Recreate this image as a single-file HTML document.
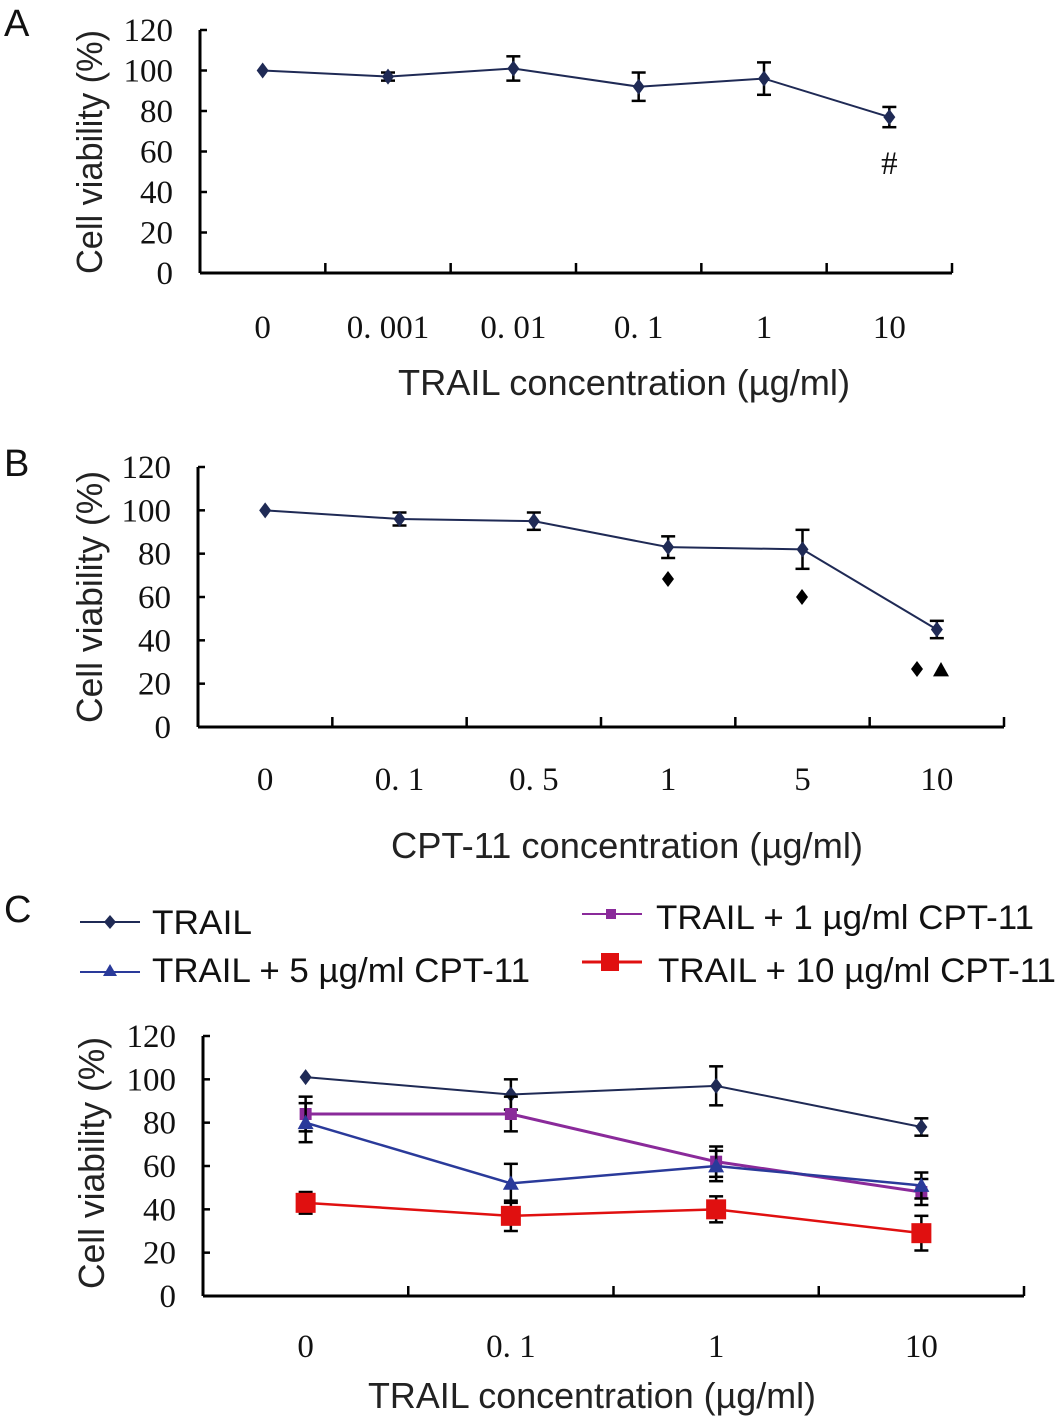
<!DOCTYPE html>
<html><head><meta charset="utf-8"><style>
html,body{margin:0;padding:0;background:#fff;}
svg{display:block;}
.tick{font-family:"Liberation Serif",serif;font-size:33px;fill:#111;}
.ttl{font-family:"Liberation Sans",sans-serif;font-size:36px;fill:#222;}
.ytl{font-family:"Liberation Sans",sans-serif;font-size:36px;fill:#222;}
.lg{font-family:"Liberation Sans",sans-serif;font-size:34px;fill:#111;}
.pl{font-family:"Liberation Sans",sans-serif;font-size:38px;fill:#111;}
</style></head><body>
<svg id="fig" width="1063" height="1425" viewBox="0 0 1063 1425" xmlns="http://www.w3.org/2000/svg">
<text class="pl" x="4" y="36">A</text>
<text class="pl" x="4" y="476">B</text>
<text class="pl" x="4" y="922">C</text>
<text class="ytl" transform="translate(102,152) rotate(-90)" text-anchor="middle" textLength="244" lengthAdjust="spacingAndGlyphs">Cell viability (%)</text>
<text class="ytl" transform="translate(102,597) rotate(-90)" text-anchor="middle" textLength="252" lengthAdjust="spacingAndGlyphs">Cell viability (%)</text>
<text class="ytl" transform="translate(104,1163) rotate(-90)" text-anchor="middle" textLength="252" lengthAdjust="spacingAndGlyphs">Cell viability (%)</text>
<text class="ttl" x="624" y="395" text-anchor="middle" textLength="452" lengthAdjust="spacingAndGlyphs">TRAIL concentration (µg/ml)</text>
<text class="ttl" x="627" y="858" text-anchor="middle" textLength="472" lengthAdjust="spacingAndGlyphs">CPT-11 concentration (µg/ml)</text>
<text class="ttl" x="592" y="1408" text-anchor="middle" textLength="448" lengthAdjust="spacingAndGlyphs">TRAIL concentration (µg/ml)</text>
<g>
<line x1="80" y1="922" x2="140" y2="922" stroke="#1f2a55" stroke-width="2"/>
<path d="M110,915 L116,922 L110,929 L104,922Z" fill="#1f2a55"/>
<text class="lg" x="152" y="934" textLength="100" lengthAdjust="spacingAndGlyphs">TRAIL</text>
<line x1="80" y1="972" x2="140" y2="972" stroke="#2a3a9a" stroke-width="2"/>
<path d="M110,964 L117,976 L103,976Z" fill="#2a3a9a"/>
<text class="lg" x="152" y="982" textLength="378" lengthAdjust="spacingAndGlyphs">TRAIL + 5 µg/ml CPT-11</text>
<line x1="582" y1="914" x2="642" y2="914" stroke="#8a2a9a" stroke-width="2"/>
<rect x="606" y="909" width="10" height="10" fill="#8a2a9a"/>
<text class="lg" x="656" y="929" textLength="378" lengthAdjust="spacingAndGlyphs">TRAIL + 1 µg/ml CPT-11</text>
<line x1="582" y1="962" x2="642" y2="962" stroke="#e01010" stroke-width="3"/>
<rect x="601" y="953" width="18" height="18" fill="#e01010"/>
<text class="lg" x="658" y="982" textLength="398" lengthAdjust="spacingAndGlyphs">TRAIL + 10 µg/ml CPT-11</text>
</g>
</svg>
<script>
// Panel A
const catsA = ["0","0. 001","0. 01","0. 1","1","10"];
const valsA = [100,97,101,92,96,77];
const errA = [1,2,6,7,8,5];
// Panel B
const catsB = ["0","0. 1","0. 5","1","5","10"];
const valsB = [100,96,95,83,82,45];
const errB = [1,3,4,5,9,4];
// Panel C
const catsC = ["0","0. 1","1","10"];
const trailC = [101,93,97,78];
const trailErr = [1,7,9,4];
const cpt1C = [84,84,62,48];
const cpt1Err = [8,8,7,6];
const cpt5C = [80,52,60,51];
const cpt5Err = [9,9,7,6];
const cpt10C = [43,37,40,29];
const cpt10Err = [5,7,6,8];
const yTicks = [0,20,40,60,80,100,120];

const NS="http://www.w3.org/2000/svg";
const svg=document.getElementById('fig');
function mk(tag,attrs,parent){const e=document.createElementNS(NS,tag);for(const k in attrs)e.setAttribute(k,attrs[k]);(parent||svg).appendChild(e);return e;}

function axes(p,cats,tickY,name){
  const g=mk('g',{});
  
  
  const y=v=>p.y0-(v/120)*(p.y0-p.y1);
  mk('line',{x1:p.x0,y1:p.y1,x2:p.x0,y2:p.y0,stroke:'#000','stroke-width':3},g);
  mk('line',{x1:p.x0,y1:p.y0,x2:p.xe,y2:p.y0,stroke:'#000','stroke-width':3},g);
  yTicks.forEach(t=>{
    mk('line',{x1:p.x0,y1:y(t),x2:p.x0+7,y2:y(t),stroke:'#000','stroke-width':2.5},g);
    const tx=mk('text',{x:p.x0-27,y:y(t)+11,'text-anchor':'end',class:'tick'},g);
    tx.textContent=t;
    
    
  });
  const step=(p.xe-p.x0)/cats.length;
  cats.forEach((c,i)=>{
    if(i>0) mk('line',{x1:p.x0+step*i,y1:p.y0,x2:p.x0+step*i,y2:p.y0-10,stroke:'#000','stroke-width':2.5},g);
    const tx=mk('text',{x:p.x0+step*(i+0.5),y:tickY,'text-anchor':'middle',class:'tick'},g);
    tx.textContent=c;
    
    
  });
  mk('line',{x1:p.xe,y1:p.y0,x2:p.xe,y2:p.y0-10,stroke:'#000','stroke-width':2.5},g);
  return {x:i=>p.x0+step*(i+0.5),y:y};
}
function marker(type,cx,cy,color,g,s){
  if(type==='d') mk('path',{d:`M${cx},${cy-s} L${cx+s*0.75},${cy} L${cx},${cy+s} L${cx-s*0.75},${cy}Z`,fill:color},g);
  else if(type==='t') mk('path',{d:`M${cx},${cy-s} L${cx+s},${cy+s*0.8} L${cx-s},${cy+s*0.8}Z`,fill:color},g);
  else mk('rect',{x:cx-s,y:cy-s,width:2*s,height:2*s,fill:color},g);
}
function series(sc,vals,errs,color,type,sw,ms,name){
  const g=mk('g',{});
  
  
  mk('polyline',{points:vals.map((v,i)=>sc.x(i)+','+sc.y(v)).join(' '),fill:'none',stroke:color,'stroke-width':sw},g);
  vals.forEach((v,i)=>{
    const x=sc.x(i),e=errs[i];
    if(e>1){
      mk('line',{x1:x,y1:sc.y(v+e),x2:x,y2:sc.y(v-e),stroke:'#000','stroke-width':2.5},g);
      mk('line',{x1:x-7,y1:sc.y(v+e),x2:x+7,y2:sc.y(v+e),stroke:'#000','stroke-width':2.5},g);
      mk('line',{x1:x-7,y1:sc.y(v-e),x2:x+7,y2:sc.y(v-e),stroke:'#000','stroke-width':2.5},g);
    }
    marker(type,x,sc.y(v),color,g,ms);
  });
}
const scA=axes({x0:200,xe:952,y0:273,y1:30},catsA,338,'panel-a');
series(scA,valsA,errA,'#1f2a55','d',2,8,'series-trail-a');
const h=mk('text',{x:scA.x(5),y:174,'text-anchor':'middle',class:'tick'});h.textContent='#';



const scB=axes({x0:198,xe:1004,y0:727,y1:467},catsB,790,'panel-b');
series(scB,valsB,errB,'#1f2a55','d',2,8,'series-cpt11-b');
const sig=mk('g',{});


marker('d',668,579,'#000',sig,8);
marker('d',802,597,'#000',sig,8);
marker('d',917,669,'#000',sig,8);
marker('t',941,670,'#000',sig,8);

const scC=axes({x0:203,xe:1024,y0:1296,y1:1036},catsC,1357,'panel-c');
series(scC,trailC,trailErr,'#1f2a55','d',2,8,'series-trail-c');
series(scC,cpt1C,cpt1Err,'#8a2a9a','s',3,6,'series-trail-1-cpt11');
series(scC,cpt5C,cpt5Err,'#2a3a9a','t',2.5,8,'series-trail-5-cpt11');
series(scC,cpt10C,cpt10Err,'#e01010','s',2.5,10,'series-trail-10-cpt11');
</script>
</body></html>
